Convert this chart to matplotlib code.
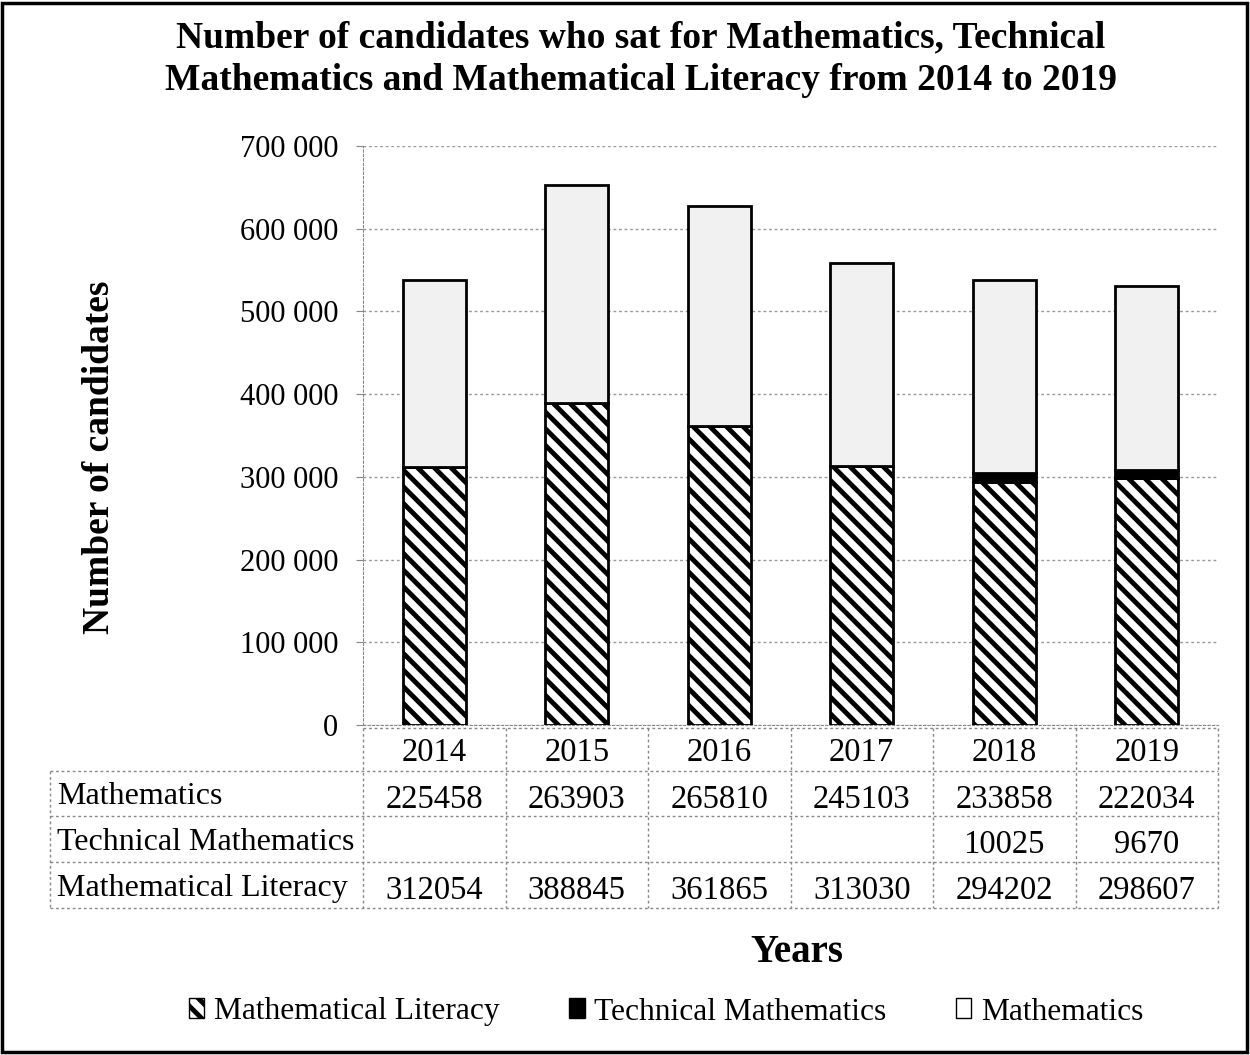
import matplotlib
matplotlib.use("Agg")
import matplotlib.pyplot as plt
from matplotlib.patches import Rectangle, Patch
from matplotlib.lines import Line2D
import numpy as np

years = ["2014", "2015", "2016", "2017", "2018", "2019"]
maths = [225458, 263903, 265810, 245103, 233858, 222034]
tech_maths = [0, 0, 0, 0, 10025, 9670]
tech_maths_labels = ["", "", "", "", "10025", "9670"]
math_lit = [312054, 388845, 361865, 313030, 294202, 298607]
series_names = ["Mathematics", "Technical Mathematics", "Mathematical Literacy"]
yticks = [0, 100000, 200000, 300000, 400000, 500000, 600000, 700000]
ytick_labels = ["0", "100 000", "200 000", "300 000", "400 000", "500 000", "600 000", "700 000"]

plt.rcParams['font.family'] = ['Liberation Serif', 'DejaVu Serif']
plt.rcParams['hatch.linewidth'] = 3.5

W, H = 1250, 1055
fig = plt.figure(figsize=(W / 100, H / 100), dpi=100)
ax = fig.add_axes([363 / W, 1 - 725 / H, (1218 - 363) / W, (725 - 146) / H])

x = np.arange(len(years))
bw = 0.44
ax.bar(x, math_lit, bw, color='white', edgecolor='black', hatch='\\\\', linewidth=2, zorder=3)
ax.bar(x, tech_maths, bw, bottom=math_lit, color='black', edgecolor='black', linewidth=2, zorder=3)
bottom2 = np.array(math_lit) + np.array(tech_maths)
ax.bar(x, maths, bw, bottom=bottom2, color='#f1f1f1', edgecolor='black', linewidth=2, zorder=3)

ax.set_xlim(-0.5, len(years) - 0.5)
ax.set_ylim(0, 700000)
ax.set_yticks(yticks)
ax.set_yticklabels(ytick_labels, fontsize=22)
ax.set_xticks([])
ax.tick_params(axis='y', length=5, color='#888888', pad=13)
ax.yaxis.grid(True, linestyle=(0, (2, 2)), color='#999999', linewidth=1, zorder=0)
for s in ['top', 'right']:
    ax.spines[s].set_visible(False)
ax.spines['left'].set_linestyle((0, (2, 2)))
ax.spines['left'].set_color('#888888')
ax.spines['bottom'].set_linestyle((0, (2, 2)))
ax.spines['bottom'].set_color('#888888')

ax.set_ylabel("Number of candidates", fontsize=27, fontweight='bold')
ax.yaxis.set_label_coords((100 - 363) / 855, 0.463)
ax.yaxis.label.set_va('center')

# data table below the axes (axes coordinates)
def ay(p):
    return (725 - p) / 579.0

row_edges = [ay(728), ay(771), ay(816), ay(862), ay(908)]
n = len(years)
label_left = (50 - 363) / 855.0
ls = (0, (2, 2))
lc = '#888888'
ax.add_line(Line2D([0, 1], [row_edges[0]] * 2, transform=ax.transAxes, clip_on=False, ls=ls, color=lc, lw=1))
for yy in row_edges[1:]:
    ax.add_line(Line2D([label_left, 1], [yy] * 2, transform=ax.transAxes, clip_on=False, ls=ls, color=lc, lw=1))
for i in range(n + 1):
    ax.add_line(Line2D([i / n] * 2, [row_edges[0], row_edges[-1]], transform=ax.transAxes, clip_on=False, ls=ls, color=lc, lw=1))
ax.add_line(Line2D([label_left] * 2, [row_edges[1], row_edges[-1]], transform=ax.transAxes, clip_on=False, ls=ls, color=lc, lw=1))

fs = 23.5
rows = [years,
        [str(v) for v in maths],
        tech_maths_labels,
        [str(v) for v in math_lit]]
shift = 2.5 / 579.0
for r, vals in enumerate(rows):
    yc = (row_edges[r] + row_edges[r + 1]) / 2
    for i, v in enumerate(vals):
        ax.text((i + 0.5) / n, yc - (shift if r > 0 else 0), v, transform=ax.transAxes, ha='center',
                va='center_baseline', fontsize=fs, clip_on=False)
    if r > 0:
        ax.text((57 - 363) / 855.0, yc, series_names[r - 1], transform=ax.transAxes, ha='left', va='center_baseline',
                fontsize=23, clip_on=False)

fig.text(797 / W, 1 - 952 / H, "Years", ha='center', va='center', fontsize=28, fontweight='bold')

fig.text(641 / W, 1 - 38 / H, "Number of candidates who sat for Mathematics, Technical", ha='center', va='center',
         fontsize=27, fontweight='bold')
fig.text(641 / W, 1 - 80 / H, "Mathematics and Mathematical Literacy from 2014 to 2019", ha='center', va='center',
         fontsize=27, fontweight='bold')

handles = [Patch(facecolor='white', edgecolor='black', hatch='\\\\', linewidth=1),
           Patch(facecolor='black', edgecolor='black', linewidth=1),
           Patch(facecolor='white', edgecolor='black', linewidth=1)]
fig.legend(handles, ["Mathematical Literacy", "Technical Mathematics", "Mathematics"],
           loc='center', bbox_to_anchor=(666 / W, 1 - 1012 / H), ncol=3, frameon=False, fontsize=22.7,
           handlelength=0.5, handleheight=0.6, handletextpad=0.3, columnspacing=2.2)

fig.add_artist(Rectangle((2 / W, 3 / H), 1 - 5 / W, 1 - 6 / H, transform=fig.transFigure, fill=False,
                         edgecolor='black', linewidth=2.5))

fig.savefig("out.png", dpi=100)
